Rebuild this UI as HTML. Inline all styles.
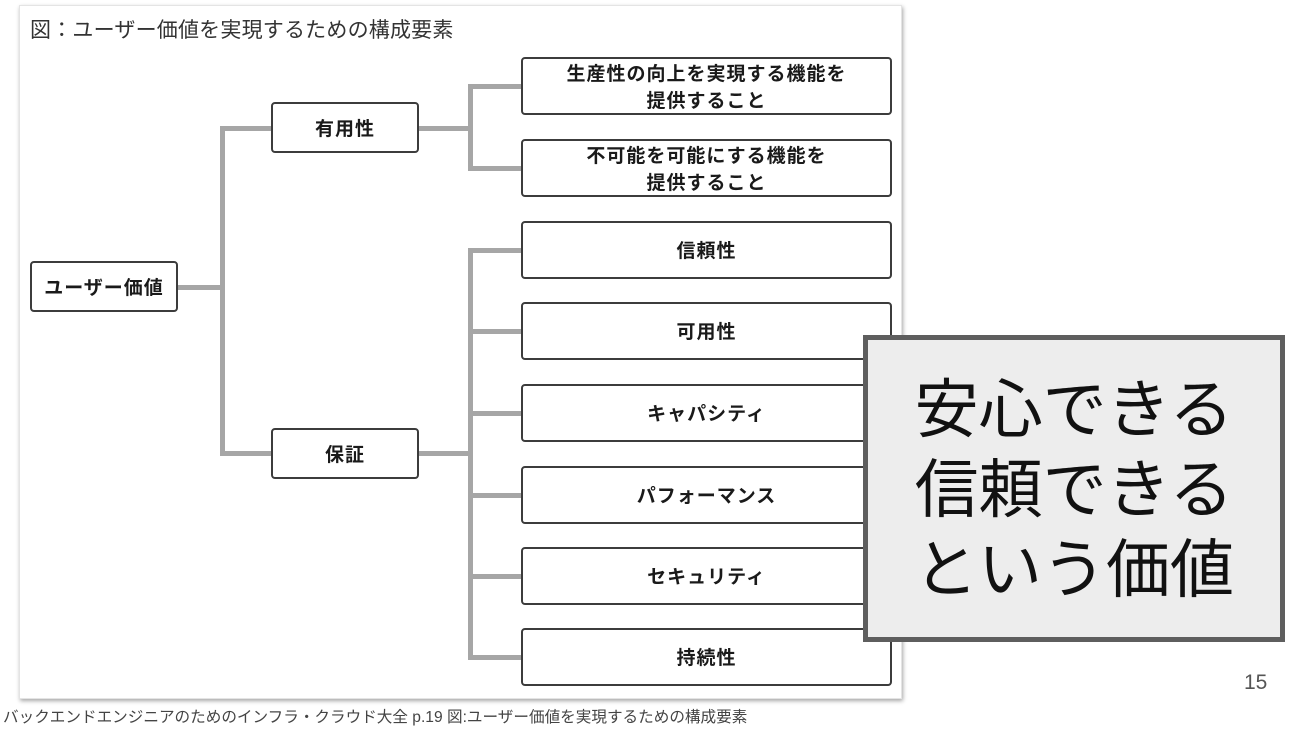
<!DOCTYPE html>
<html><head><meta charset="utf-8">
<style>
*{margin:0;padding:0;box-sizing:border-box}
html,body{width:1300px;height:731px;background:#fff;overflow:hidden;position:relative;font-family:"Liberation Sans","Noto Sans CJK JP",sans-serif}
.card{position:absolute;left:19px;top:5px;width:883px;height:694px;background:#fff;border:1px solid #e4e4e4;box-shadow:1px 2px 4px rgba(0,0,0,0.35)}
.title{position:absolute;left:30px;top:17px;font-size:21px;line-height:28px;color:#333;white-space:nowrap;letter-spacing:0.2px}
.l{position:absolute;background:#a6a6a6}
.b{position:absolute;border:2px solid #3c3c3c;border-radius:4px;background:#fff;display:flex;align-items:center;justify-content:center;text-align:center;font-weight:bold;font-size:19px;letter-spacing:1px;line-height:27px;color:#1a1a1a;padding-top:3px}
.r{left:521px;width:371px;height:58px}
.ov{position:absolute;left:863px;top:335px;width:422px;height:307px;border:5px solid #5e5e5e;background:#ededed;display:flex;flex-direction:column;align-items:center;justify-content:center;font-size:64px;line-height:80px;color:#111;white-space:nowrap;padding-top:2px}
.pg{position:absolute;left:1244px;top:670px;font-size:21px;line-height:26px;color:#555}
.cap{position:absolute;left:3px;top:708px;font-size:15.6px;line-height:20px;color:#444;white-space:nowrap}
</style></head><body>
<div class="card"></div>
<div class="title">図：ユーザー価値を実現するための構成要素</div>

<!-- connectors -->
<div class="l" style="left:178px;top:285px;width:47px;height:5px"></div>
<div class="l" style="left:220px;top:126px;width:5px;height:330px"></div>
<div class="l" style="left:220px;top:126px;width:51px;height:5px"></div>
<div class="l" style="left:220px;top:451px;width:51px;height:5px"></div>

<div class="l" style="left:419px;top:126px;width:54px;height:5px"></div>
<div class="l" style="left:468px;top:84px;width:5px;height:87px"></div>
<div class="l" style="left:468px;top:84px;width:53px;height:5px"></div>
<div class="l" style="left:468px;top:166px;width:53px;height:5px"></div>

<div class="l" style="left:419px;top:451px;width:54px;height:5px"></div>
<div class="l" style="left:468px;top:248px;width:5px;height:412px"></div>
<div class="l" style="left:468px;top:248px;width:53px;height:5px"></div>
<div class="l" style="left:468px;top:329px;width:53px;height:5px"></div>
<div class="l" style="left:468px;top:411px;width:53px;height:5px"></div>
<div class="l" style="left:468px;top:493px;width:53px;height:5px"></div>
<div class="l" style="left:468px;top:574px;width:53px;height:5px"></div>
<div class="l" style="left:468px;top:655px;width:53px;height:5px"></div>

<!-- boxes -->
<div class="b" style="left:30px;top:261px;width:148px;height:51px">ユーザー価値</div>
<div class="b" style="left:271px;top:102px;width:148px;height:51px">有用性</div>
<div class="b" style="left:271px;top:428px;width:148px;height:51px">保証</div>

<div class="b r" style="top:57px">生産性の向上を実現する機能を<br>提供すること</div>
<div class="b r" style="top:139px">不可能を可能にする機能を<br>提供すること</div>
<div class="b r" style="top:221px">信頼性</div>
<div class="b r" style="top:302px">可用性</div>
<div class="b r" style="top:384px">キャパシティ</div>
<div class="b r" style="top:466px">パフォーマンス</div>
<div class="b r" style="top:547px">セキュリティ</div>
<div class="b r" style="top:628px">持続性</div>

<div class="ov"><div>安心できる</div><div>信頼できる</div><div>という価値</div></div>

<div class="pg">15</div>
<div class="cap">バックエンドエンジニアのためのインフラ・クラウド大全 p.19 図:ユーザー価値を実現するための構成要素</div>
</body></html>
